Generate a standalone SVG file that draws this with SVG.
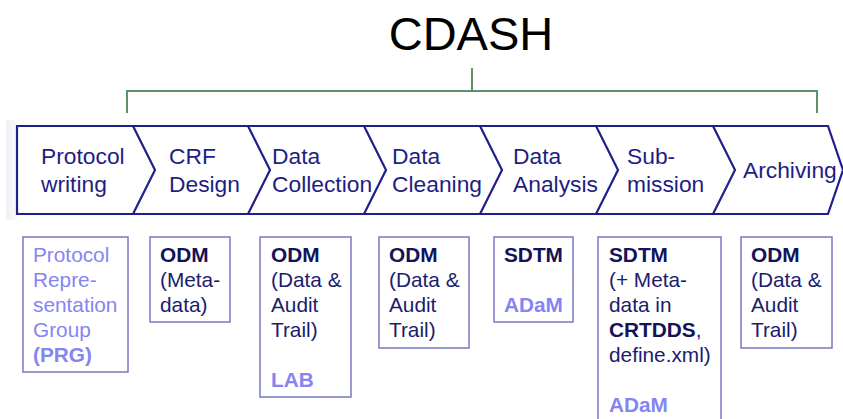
<svg xmlns="http://www.w3.org/2000/svg" width="843" height="419" viewBox="0 0 843 419">
<defs>
<style>
.t{font-family:"Liberation Sans",Arial,sans-serif;}
.title{font-size:47px;fill:#000;}
.step{font-size:22.8px;fill:#1e1e82;}
.box{fill:#fff;stroke:#7a7ac4;stroke-width:1.5;}
.bt{font-size:20.8px;fill:#1c1c6c;}
.b{font-weight:bold;fill:#13135a;}
.lt{fill:#8585f2;}
.chev{fill:none;stroke:#1f1f8a;stroke-width:2.2;stroke-linejoin:miter;}
.br{fill:none;stroke:#5e9266;stroke-width:2;}
</style>
<linearGradient id="bg" x1="0" x2="1" y1="0" y2="0">
<stop offset="0" stop-color="#eef0f5"/><stop offset="1" stop-color="#ffffff"/>
</linearGradient>
</defs>
<rect width="843" height="419" fill="#fff"/>
<rect x="6" y="120" width="14" height="100" fill="url(#bg)"/>
<g id="title"><text class="t title" x="471" y="50" text-anchor="middle">CDASH</text></g>
<g id="connectors">
<path class="br" d="M127,113 V91 H817 V113"/>
<path class="br" d="M472,68 V91"/>
</g>
<g id="chevrons">
<path class="chev" d="M17,126 H828 L843,170 L828,214 H17 Z"/>
<path class="chev" d="M133,126 L155,170 L133,214"/>
<path class="chev" d="M248,126 L270,170 L248,214"/>
<path class="chev" d="M364,126 L386,170 L364,214"/>
<path class="chev" d="M480,126 L502,170 L480,214"/>
<path class="chev" d="M596,126 L618,170 L596,214"/>
<path class="chev" d="M713,126 L735,170 L713,214"/>
</g>
<g id="step1"><text class="t step" x="41" y="164">Protocol<tspan x="41" y="192">writing</tspan></text></g>
<g id="step2"><text class="t step" x="169" y="164">CRF<tspan x="169" y="192">Design</tspan></text></g>
<g id="step3"><text class="t step" x="272" y="164">Data<tspan x="272" y="192">Collection</tspan></text></g>
<g id="step4"><text class="t step" x="392" y="164">Data<tspan x="392" y="192">Cleaning</tspan></text></g>
<g id="step5"><text class="t step" x="513" y="164">Data<tspan x="513" y="192">Analysis</tspan></text></g>
<g id="step6"><text class="t step" x="627" y="164">Sub-<tspan x="627" y="192">mission</tspan></text></g>
<g id="step7"><text class="t step" x="743" y="178">Archiving</text></g>
<g id="box1">
<rect class="box" x="23" y="237" width="105" height="135"/>
<text class="t bt lt" x="33" y="262">Protocol<tspan x="33" y="287">Repre-</tspan><tspan x="33" y="312">sentation</tspan><tspan x="33" y="337">Group</tspan><tspan x="33" y="362" font-weight="bold">(PRG)</tspan></text>
</g>
<g id="box2">
<rect class="box" x="150" y="237" width="80" height="85"/>
<text class="t bt" x="160" y="262"><tspan class="b">ODM</tspan><tspan x="160" y="287">(Meta-</tspan><tspan x="160" y="312">data)</tspan></text>
</g>
<g id="box3">
<rect class="box" x="260" y="237" width="91" height="160"/>
<text class="t bt" x="271" y="262"><tspan class="b">ODM</tspan><tspan x="271" y="287">(Data &amp;</tspan><tspan x="271" y="312">Audit</tspan><tspan x="271" y="337">Trail)</tspan><tspan x="271" y="387" class="lt" font-weight="bold">LAB</tspan></text>
</g>
<g id="box4">
<rect class="box" x="379" y="237" width="90" height="111"/>
<text class="t bt" x="389" y="262"><tspan class="b">ODM</tspan><tspan x="389" y="287">(Data &amp;</tspan><tspan x="389" y="312">Audit</tspan><tspan x="389" y="337">Trail)</tspan></text>
</g>
<g id="box5">
<rect class="box" x="494" y="237" width="79" height="85"/>
<text class="t bt" x="504" y="262"><tspan class="b">SDTM</tspan><tspan x="504" y="312" class="lt" font-weight="bold">ADaM</tspan></text>
</g>
<g id="box6">
<rect class="box" x="598" y="237" width="123" height="190"/>
<text class="t bt" x="609" y="262"><tspan class="b">SDTM</tspan><tspan x="609" y="287">(+ Meta-</tspan><tspan x="609" y="312">data in</tspan><tspan x="609" y="337" class="b">CRTDDS</tspan><tspan>,</tspan><tspan x="609" y="362">define.xml)</tspan><tspan x="609" y="412" class="lt" font-weight="bold">ADaM</tspan></text>
</g>
<g id="box7">
<rect class="box" x="741" y="237" width="91" height="111"/>
<text class="t bt" x="751" y="262"><tspan class="b">ODM</tspan><tspan x="751" y="287">(Data &amp;</tspan><tspan x="751" y="312">Audit</tspan><tspan x="751" y="337">Trail)</tspan></text>
</g>
</svg>
